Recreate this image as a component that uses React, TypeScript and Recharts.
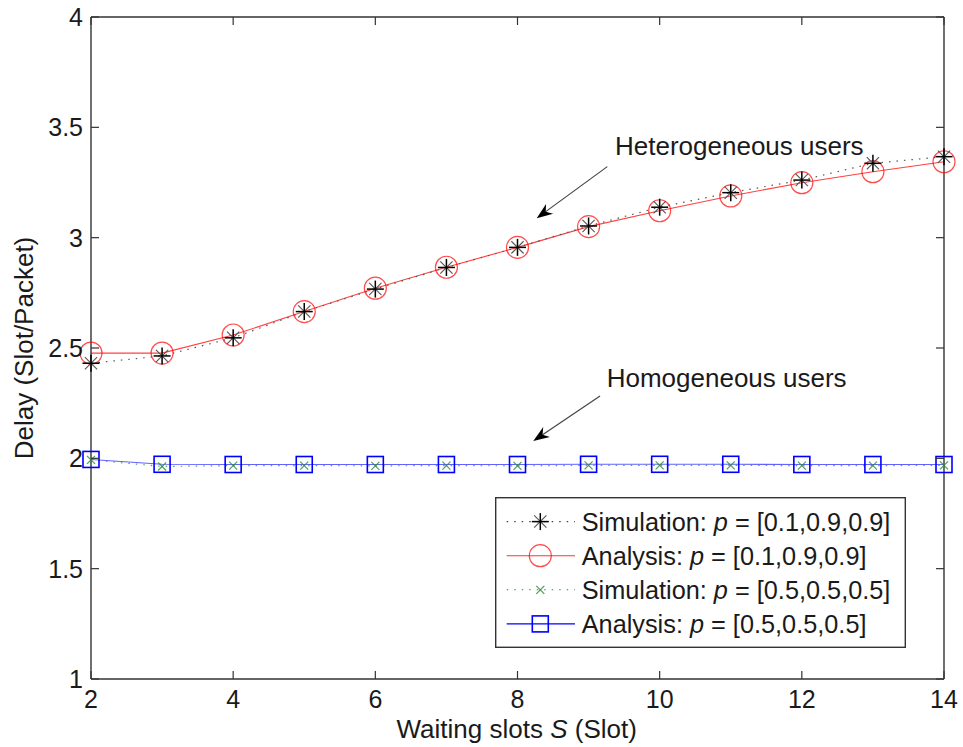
import React from 'react';
import { LineChart, Line, XAxis, YAxis, ReferenceLine, ReferenceDot, Legend } from 'recharts';

const waitingSlots = [2, 3, 4, 5, 6, 7, 8, 9, 10, 11, 12, 13, 14];
const simHetero = [2.431, 2.464, 2.546, 2.665, 2.767, 2.865, 2.956, 3.053, 3.138, 3.204, 3.261, 3.337, 3.367];
const anaHetero = [2.477, 2.477, 2.559, 2.665, 2.771, 2.866, 2.956, 3.05, 3.122, 3.189, 3.249, 3.299, 3.344];
const simHomo = [1.993, 1.963, 1.967, 1.967, 1.966, 1.967, 1.966, 1.968, 1.968, 1.968, 1.967, 1.967, 1.968];
const anaHomo = [1.995, 1.973, 1.972, 1.972, 1.972, 1.972, 1.972, 1.973, 1.973, 1.973, 1.972, 1.972, 1.972];
const xTicks = [2, 4, 6, 8, 10, 12, 14];
const yTicks = [1, 1.5, 2, 2.5, 3, 3.5, 4];
const legendLabels = [
  ['Simulation: ', ' = [0.1,0.9,0.9]'],
  ['Analysis: ', ' = [0.1,0.9,0.9]'],
  ['Simulation: ', ' = [0.5,0.5,0.5]'],
  ['Analysis: ', ' = [0.5,0.5,0.5]'],
];
const annotations = [
  { text: 'Heterogeneous users', tx: 9.372, ty: 3.375, from: { x: 9.263, y: 3.322 }, to: { x: 8.27, y: 3.088 } },
  { text: 'Homogeneous users', tx: 9.255, ty: 2.325, from: { x: 9.161, y: 2.282 }, to: { x: 8.222, y: 2.079 } },
];

const data = waitingSlots.map((x, i) => ({
  x,
  simHetero: simHetero[i],
  anaHetero: anaHetero[i],
  simHomo: simHomo[i],
  anaHomo: anaHomo[i],
}));

const FONT = '"Liberation Sans", Arial, Helvetica, sans-serif';
const W = 963;
const H = 747;
const M_TOP = 17;
const M_RIGHT = 19;
const PLOT_TOP = M_TOP;
const PLOT_RIGHT = W - M_RIGHT;
const AXIS = '#333';
const TXT = '#1a1a1a';

const Star = ({ cx, cy, s = 8.5 }: any) => {
  const d = s * 0.72;
  return (
    <g>
      <line x1={cx - d} y1={cy - d} x2={cx + d} y2={cy + d} stroke="#555" strokeWidth={1.1} />
      <line x1={cx - d} y1={cy + d} x2={cx + d} y2={cy - d} stroke="#555" strokeWidth={1.1} />
      <line x1={cx - s} y1={cy} x2={cx + s} y2={cy} stroke="#000" strokeWidth={1.5} />
      <line x1={cx} y1={cy - s} x2={cx} y2={cy + s} stroke="#000" strokeWidth={1.5} />
    </g>
  );
};
const Circ = ({ cx, cy }: any) => (
  <circle cx={cx} cy={cy} r={11} fill="none" stroke="#ff0000" strokeOpacity={0.7} strokeWidth={1.2} />
);
const XMark = ({ cx, cy, s = 4 }: any) => (
  <g stroke="#2e8b3e" strokeWidth={1.2} strokeOpacity={0.85}>
    <line x1={cx - s} y1={cy - s} x2={cx + s} y2={cy + s} />
    <line x1={cx - s} y1={cy + s} x2={cx + s} y2={cy - s} />
  </g>
);
const Sq = ({ cx, cy }: any) => (
  <rect x={cx - 8} y={cy - 8} width={16} height={16} fill="none" stroke="#0000ff" strokeWidth={1.6} />
);

const dotFn = (Comp: any) => (p: any) => (
  <g key={`d-${p.index}`}>{p.cx != null && p.cy != null ? <Comp cx={p.cx} cy={p.cy} /> : null}</g>
);

const XTick = (props: any) => {
  const { x, y, payload } = props;
  return (
    <g>
      <line x1={x} y1={y} x2={x} y2={y - 8} stroke={AXIS} strokeWidth={1.2} />
      <line x1={x} y1={PLOT_TOP} x2={x} y2={PLOT_TOP + 8} stroke={AXIS} strokeWidth={1.2} />
      <text x={x} y={y + 29} textAnchor="middle" fontSize={25} fontFamily={FONT} fill={TXT}>
        {payload.value}
      </text>
    </g>
  );
};
const YTick = (props: any) => {
  const { x, y, payload } = props;
  return (
    <g>
      <line x1={x} y1={y} x2={x + 8} y2={y} stroke={AXIS} strokeWidth={1.2} />
      <line x1={PLOT_RIGHT} y1={y} x2={PLOT_RIGHT - 8} y2={y} stroke={AXIS} strokeWidth={1.2} />
      <text x={x - 8} y={y + 9} textAnchor="end" fontSize={25} fontFamily={FONT} fill={TXT}>
        {String(payload.value)}
      </text>
    </g>
  );
};

const Arrow = (p: any) => {
  const { x1, y1, x2, y2 } = p;
  const dx = x2 - x1;
  const dy = y2 - y1;
  const len = Math.sqrt(dx * dx + dy * dy) || 1;
  const ux = dx / len;
  const uy = dy / len;
  const nx = -uy;
  const ny = ux;
  const L = 16;
  const Wd = 6;
  const bx = x2 - ux * L;
  const by = y2 - uy * L;
  const notchX = x2 - ux * L * 0.7;
  const notchY = y2 - uy * L * 0.7;
  const pts = `${x2},${y2} ${bx + nx * Wd},${by + ny * Wd} ${notchX},${notchY} ${bx - nx * Wd},${by - ny * Wd}`;
  return (
    <g>
      <line x1={x1} y1={y1} x2={notchX} y2={notchY} stroke="#444" strokeWidth={1.2} />
      <polygon points={pts} fill="#000" />
    </g>
  );
};

const legendMarkers = [
  { Comp: Star, stroke: '#444', dash: '1.5 6' },
  { Comp: Circ, stroke: '#ff0000', dash: undefined },
  { Comp: XMark, stroke: '#2e8b3e', dash: '1.5 6' },
  { Comp: Sq, stroke: '#0000ff', dash: undefined },
];

const LegendBox = () => (
  <svg width={411} height={151} style={{ display: 'block' }}>
    <rect x={0.7} y={0.7} width={409.6} height={149.6} fill="#fff" stroke={AXIS} strokeWidth={1.4} />
    {legendLabels.map((lab, i) => {
      const cy = 24.6 + i * 34.1;
      const m = legendMarkers[i];
      const C = m.Comp;
      return (
        <g key={i}>
          <line x1={11.7} y1={cy} x2={80} y2={cy} stroke={m.stroke} strokeWidth={1.1} strokeDasharray={m.dash} strokeOpacity={i === 1 ? 0.8 : 1} />
          <C cx={45.3} cy={cy} />
          <text x={86.7} y={cy + 9} fontSize={25.3} fontFamily={FONT} fill={TXT}>
            {lab[0]}
            <tspan fontStyle="italic">p</tspan>
            {lab[1]}
          </text>
        </g>
      );
    })}
  </svg>
);

export default function App() {
  return (
    <div style={{ position: 'absolute', left: 0, top: 0, width: W, height: H, background: '#fff' }}>
      <LineChart width={W} height={H} data={data} margin={{ top: M_TOP, right: M_RIGHT, left: 0, bottom: 0 }}>
        <XAxis
          dataKey="x"
          type="number"
          domain={[2, 14]}
          ticks={xTicks}
          height={68}
          tickSize={0}
          tickMargin={0}
          tick={<XTick />}
          axisLine={{ stroke: AXIS, strokeWidth: 1.4 }}
          tickLine={false}
          interval={0}
          label={{
            content: () => (
              <text x={516.7} y={738} textAnchor="middle" fontSize={26} fontFamily={FONT} fill={TXT}>
                Waiting slots <tspan fontStyle="italic">S</tspan> (Slot)
              </text>
            ),
          }}
        />
        <YAxis
          type="number"
          domain={[1, 4]}
          ticks={yTicks}
          width={91}
          tickSize={0}
          tickMargin={0}
          tick={<YTick />}
          axisLine={{ stroke: AXIS, strokeWidth: 1.4 }}
          tickLine={false}
          interval={0}
          label={{
            content: () => (
              <text transform="translate(33,348) rotate(-90)" textAnchor="middle" fontSize={26} fontFamily={FONT} fill={TXT}>
                Delay (Slot/Packet)
              </text>
            ),
          }}
        />
        <ReferenceLine y={4} stroke={AXIS} strokeWidth={1.4} />
        <ReferenceLine x={14} stroke={AXIS} strokeWidth={1.4} />
        {annotations.map((a, i) => (
          <ReferenceLine key={`arr${i}`} segment={[a.from, a.to]} ifOverflow="visible" shape={Arrow} />
        ))}
        {annotations.map((a, i) => (
          <ReferenceDot
            key={`txt${i}`}
            x={a.tx}
            y={a.ty}
            r={0}
            ifOverflow="visible"
            shape={(p: any) => (
              <text x={p.cx} y={p.cy} fontSize={26} fontFamily={FONT} fill={TXT}>
                {a.text}
              </text>
            )}
          />
        ))}
        <Line
          dataKey="anaHetero"
          type="linear"
          stroke="#ff0000"
          strokeOpacity={0.75}
          strokeWidth={1.1}
          dot={dotFn(Circ)}
          activeDot={false}
          isAnimationActive={false}
        />
        <Line
          dataKey="simHetero"
          type="linear"
          stroke="#555"
          strokeWidth={1.2}
          strokeDasharray="1.5 6"
          dot={dotFn(Star)}
          activeDot={false}
          isAnimationActive={false}
        />
        <Line
          dataKey="anaHomo"
          type="linear"
          stroke="#2020ff"
          strokeOpacity={0.7}
          strokeWidth={1.1}
          dot={dotFn(Sq)}
          activeDot={false}
          isAnimationActive={false}
        />
        <Line
          dataKey="simHomo"
          type="linear"
          stroke="#2e8b3e"
          strokeOpacity={0.8}
          strokeWidth={1.2}
          strokeDasharray="1.5 6"
          dot={dotFn(XMark)}
          activeDot={false}
          isAnimationActive={false}
        />
        <Legend
          layout="horizontal"
          verticalAlign="middle"
          align="center"
          content={() => <LegendBox />}
          wrapperStyle={{ position: 'absolute', left: 495, top: 497, width: 411, height: 151 }}
        />
      </LineChart>
    </div>
  );
}
